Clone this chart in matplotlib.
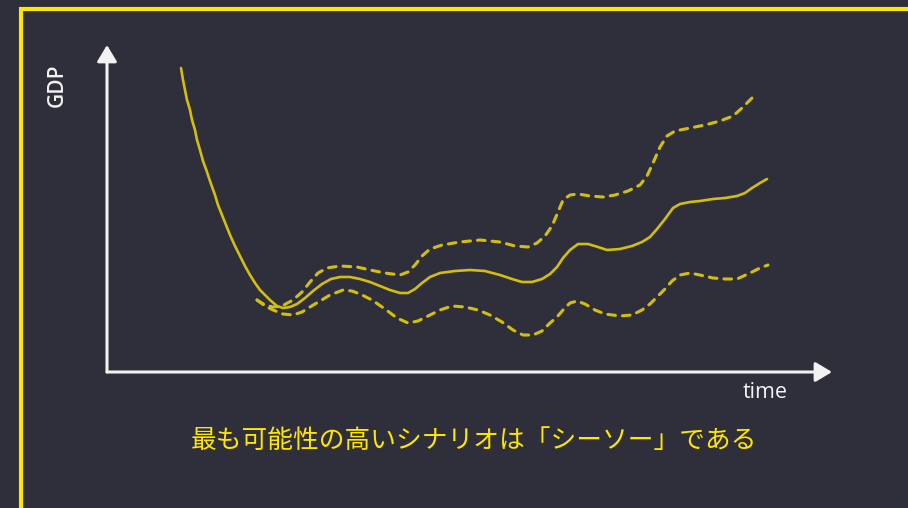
import matplotlib
matplotlib.use('Agg')
import matplotlib.pyplot as plt

# colours
bg_color = '#2e2f3a'
frame_color = '#ffe600'
curve_color = '#d2be0c'
axis_color = '#f2f2f2'

# GDP paths over time (arbitrary units)
time_central = [74, 76, 78, 80, 83, 85, 88, 90, 93, 96, 100, 104, 108, 111, 115, 119, 123, 128, 133,
                138, 143, 148, 153, 158, 163, 170, 176, 183, 190,
                198, 206, 215, 224, 233, 243, 253, 263, 273, 283, 293, 301, 308, 315, 323, 333,
                348, 363, 378, 393, 405, 415, 425, 435, 443, 450, 456, 463, 471, 481, 491, 500,
                513, 525, 535, 543, 550, 558, 566, 573, 583, 593, 606, 618, 630, 638, 645, 653, 660]
gdp_central = [304, 292, 282, 272, 262, 252, 242, 232, 222, 211, 200, 188, 177, 167, 157, 147, 137, 126, 116,
               106, 97, 89, 82, 77, 72, 66, 64, 65, 68,
               74, 81, 88, 93, 95, 95, 93, 90, 86, 82, 79, 79, 83, 89, 95, 99,
               101, 102, 101, 97, 93, 90, 90, 93, 98, 105, 114, 122, 128, 128, 125, 122,
               123, 126, 130, 135, 143, 153, 164, 168, 170, 171, 173, 174, 176, 179, 184, 189, 193]

time_upper = [150, 158, 166, 175, 186, 195, 203, 211, 220, 233, 250, 263, 278, 293, 301, 308,
              315, 323, 335, 353, 373, 393, 408, 421, 430, 438, 445, 451, 456, 463, 471, 483,
              496, 508, 521, 533, 540, 546, 553, 560, 568, 583, 598, 613, 626, 635, 645]
gdp_upper = [72, 67, 65, 66, 72, 80, 90, 99, 104, 106, 105, 102, 99, 97, 100, 107,
             116, 123, 127, 130, 132, 130, 126, 125, 129, 136, 146, 160, 172, 177, 178, 176,
             175, 177, 181, 187, 196, 209, 225, 236, 241, 244, 247, 251, 256, 264, 274]

time_lower = [150, 158, 166, 176, 186, 195, 203, 213, 223, 236, 245, 253, 265, 278, 290, 301,
              311, 321, 333, 345, 358, 371, 383, 395, 406, 416, 426, 435, 443, 450, 456, 463,
              470, 478, 488, 498, 513, 525, 535, 543, 550, 558, 565, 573, 583, 593, 606, 618,
              630, 643, 653, 661]
gdp_lower = [72, 66, 62, 58, 57, 60, 65, 71, 77, 82, 81, 78, 72, 63, 54, 49,
             51, 56, 62, 66, 65, 62, 57, 50, 42, 37, 37, 41, 49, 55, 62, 69,
             71, 68, 62, 58, 56, 57, 62, 68, 75, 83, 91, 97, 99, 97, 94, 93,
             93, 99, 104, 107]

x_label = 'time'
y_label = 'GDP'
caption = '最も可能性の高いシナリオは「シーソー」である'

W, H = 908, 508
fig = plt.figure(figsize=(W / 100, H / 100), dpi=100, facecolor=bg_color)

# full-figure layer in pixel units for frame and text
bg = fig.add_axes([0, 0, 1, 1])
bg.set_xlim(0, W)
bg.set_ylim(H, 0)
bg.axis('off')
bg.set_facecolor(bg_color)
bg.plot([21, 21, W + 5], [H + 5, 9, 9], color=frame_color, lw=3, solid_joinstyle='miter')

bg.text(57, 85, y_label, rotation=90, ha='center', va='center', color=axis_color,
        fontsize=15, fontweight='semibold', family=['Open Sans', 'DejaVu Sans'])
bg.text(765, 393, x_label, ha='center', va='center', color=axis_color,
        fontsize=15.5, fontweight='medium', family=['Open Sans', 'DejaVu Sans'])
bg.text(474, 441, caption, ha='center', va='center', color=frame_color,
        fontsize=18.5, family=['Noto Sans CJK JP', 'DejaVu Sans'])

# chart area: origin at the corner of the two arrows
ox, oy, xmax, ymax = 107, 372, 725, 327
ax = fig.add_axes([ox / W, (H - oy) / H, xmax / W, ymax / H])
ax.set_xlim(0, xmax)
ax.set_ylim(0, ymax)
ax.axis('off')
ax.patch.set_alpha(0)

arrow = dict(arrowstyle='-|>,head_length=1.0,head_width=0.6', color=axis_color, lw=2.2,
             mutation_scale=10, shrinkA=0, shrinkB=0)
ax.annotate('', xy=(0, ymax), xytext=(0, 0), arrowprops=arrow, annotation_clip=False)
ax.annotate('', xy=(xmax, 0), xytext=(0, 0), arrowprops=arrow, annotation_clip=False)

ax.plot(time_central, gdp_central, color=curve_color, lw=1.9, solid_capstyle='round',
        solid_joinstyle='round')
ax.plot(time_upper, gdp_upper, color=curve_color, lw=2.2, dashes=(2.5, 2.3), dash_capstyle='round')
ax.plot(time_lower, gdp_lower, color=curve_color, lw=2.2, dashes=(2.5, 2.3), dash_capstyle='round')

fig.savefig('out.png', dpi=100, facecolor=bg_color)
